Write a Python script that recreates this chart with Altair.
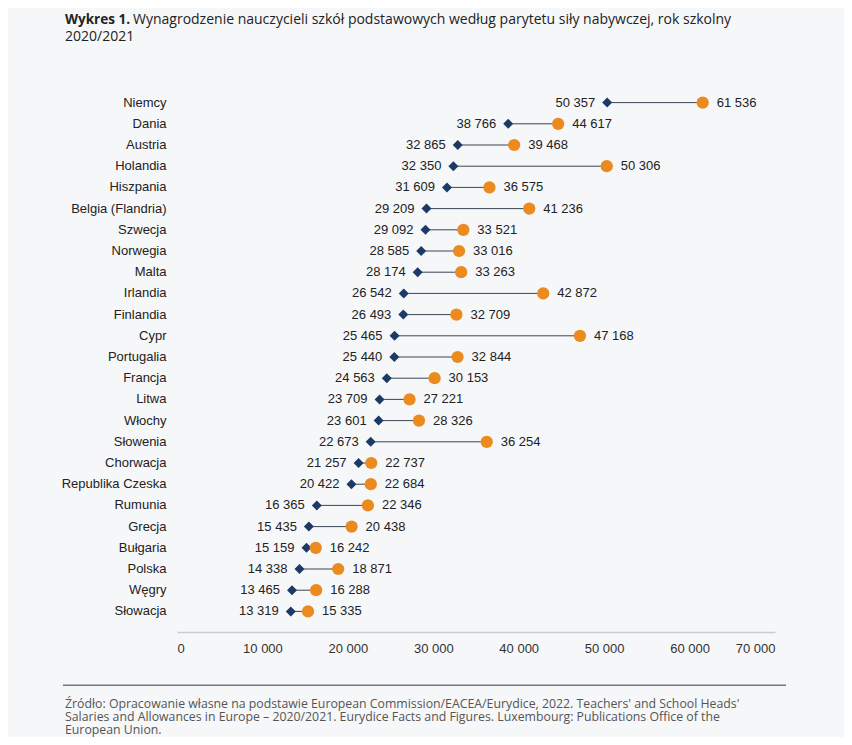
import altair as alt
import pandas as pd

countries = ["Niemcy", "Dania", "Austria", "Holandia", "Hiszpania", "Belgia (Flandria)",
             "Szwecja", "Norwegia", "Malta", "Irlandia", "Finlandia", "Cypr", "Portugalia",
             "Francja", "Litwa", "Włochy", "Słowenia", "Chorwacja", "Republika Czeska",
             "Rumunia", "Grecja", "Bułgaria", "Polska", "Węgry", "Słowacja"]
min_salary = [50357, 38766, 32865, 32350, 31609, 29209, 29092, 28585, 28174, 26542,
              26493, 25465, 25440, 24563, 23709, 23601, 22673, 21257, 20422, 16365,
              15435, 15159, 14338, 13465, 13319]
max_salary = [61536, 44617, 39468, 50306, 36575, 41236, 33521, 33016, 33263, 42872,
              32709, 47168, 32844, 30153, 27221, 28326, 36254, 22737, 22684, 22346,
              20438, 16242, 18871, 16288, 15335]
x_ticks = [0, 10000, 20000, 30000, 40000, 50000, 60000, 70000]

title_bold = "Wykres 1."
title_rest = "Wynagrodzenie nauczycieli szkół podstawowych według parytetu siły nabywczej, rok szkolny"
title_line2 = "2020/2021"
source_lines = ["Źródło: Opracowanie własne na podstawie European Commission/EACEA/Eurydice, 2022. Teachers' and School Heads'",
                "Salaries and Allowances in Europe – 2020/2021. Eurydice Facts and Figures. Luxembourg: Publications Office of the",
                "European Union."]

df = pd.DataFrame({"kraj": countries, "min": min_salary, "max": max_salary})

W, H = 598, 530
NAVY = "#1d3a66"
ORANGE = "#ea8a1f"
TXT = "#222222"
LABEL_FONT = "Liberation Sans"
TITLE_FONT = "Open Sans"

y_enc = alt.Y("kraj:N", sort=countries, scale=alt.Scale(paddingInner=0, paddingOuter=0),
              axis=alt.Axis(title=None, domain=False, ticks=False, labelPadding=11,
                            labelFontSize=13, labelFont=LABEL_FONT, labelColor=TXT))
x_scale = alt.Scale(domain=[0, 70000], nice=False)

base = alt.Chart(df).transform_calculate(
    min_lbl="replace(format(datum.min, ','), ',', ' ')",
    max_lbl="replace(format(datum.max, ','), ',', ' ')",
)

rule = base.mark_rule(color="#3a4655", strokeWidth=1).encode(
    x=alt.X("min:Q", scale=x_scale,
            axis=alt.Axis(title=None, values=x_ticks, grid=False, ticks=False,
                          domainColor="#c9ccd0", domainWidth=1.5, offset=10,
                          labelPadding=10, labelFontSize=13, labelFont=LABEL_FONT,
                          labelColor="#333333",
                          labelExpr="replace(format(datum.value, ','), ',', ' ')")),
    x2="max:Q",
    y=y_enc,
)

diam = base.mark_point(shape="diamond", filled=True, size=100, color=NAVY, opacity=1).encode(
    x=alt.X("min:Q", scale=x_scale), y=y_enc)
circ = base.mark_point(shape="circle", filled=True, size=150, color=ORANGE, opacity=1).encode(
    x=alt.X("max:Q", scale=x_scale), y=y_enc)

lbl_min = base.mark_text(align="right", baseline="middle", dx=-12, fontSize=13,
                         font=LABEL_FONT, color=TXT).encode(
    x=alt.X("min:Q", scale=x_scale), y=y_enc, text="min_lbl:N")
lbl_max = base.mark_text(align="left", baseline="middle", dx=14, fontSize=13,
                         font=LABEL_FONT, color=TXT).encode(
    x=alt.X("max:Q", scale=x_scale), y=y_enc, text="max_lbl:N")

ann = pd.DataFrame({"a": [0]})


def note(txt, x, y, size, color=TXT, weight="normal"):
    return alt.Chart(ann).mark_text(align="left", baseline="middle", font=TITLE_FONT,
                                    color=color, fontWeight=weight, text=txt).encode(
        x=alt.value(x), y=alt.value(y), size=alt.value(size))


t_bold = note(title_bold, -112, -72, 13.5, weight="bold")
t_rest = note(title_rest, -44, -72, 14.0)
t_l2 = note(title_line2, -112, -55.4, 14.0)
src_rule = alt.Chart(ann).mark_rule(color="#777777", strokeWidth=1.5).encode(
    x=alt.value(-114), x2=alt.value(609), y=alt.value(593.3))
src1 = note(source_lines[0], -112, 611.6, 12.3, color="#555555")
src2 = note(source_lines[1], -112, 624.8, 12.3, color="#555555")
src3 = note(source_lines[2], -112, 638.0, 12.3, color="#555555")

chart = alt.layer(rule, diam, circ, lbl_min, lbl_max, t_bold, t_rest, t_l2,
                  src_rule, src1, src2, src3).properties(
    width=W, height=H,
    autosize=alt.AutoSizeParams(type="none"),
    padding={"left": 169, "top": 84, "right": 69, "bottom": 115},
).configure(background="#f6f7f9").configure_view(stroke=None)

chart.save("out.html", embed_options={"renderer": "svg", "actions": False})
